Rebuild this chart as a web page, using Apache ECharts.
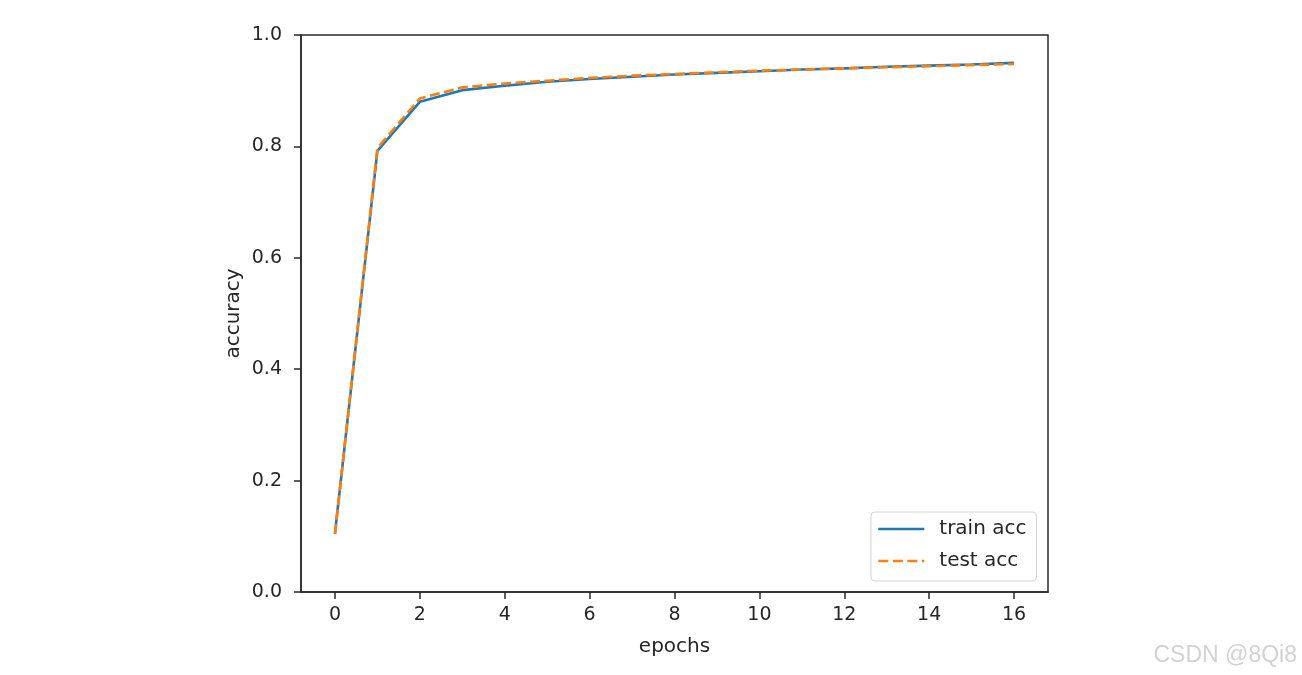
<!DOCTYPE html>
<html>
<head>
<meta charset="utf-8">
<script src="https://cdn.jsdelivr.net/npm/echarts@6/dist/echarts.min.js"></script>
<style>
html,body{margin:0;padding:0;background:#fff;}
#c{width:1302px;height:675px;}
</style>
</head>
<body>
<div id="c"></div>
<script>
const epochs = [0,1,2,3,4,5,6,7,8,9,10,11,12,13,14,15,16];
const trainAcc = [0.105,0.792,0.880,0.901,0.909,0.916,0.921,0.925,0.929,0.932,0.935,0.938,0.940,0.943,0.945,0.947,0.950];
const testAcc  = [0.104,0.797,0.886,0.906,0.913,0.918,0.923,0.927,0.930,0.933,0.936,0.938,0.940,0.942,0.944,0.946,0.948];
const xTicks = [0,2,4,6,8,10,12,14,16];

const font = 'DejaVu Sans';
const txt = '#262626';
const ax = '#2a2a2a';
const chart = echarts.init(document.getElementById('c'), null, {renderer:'canvas'});
chart.setOption({
  animation:false,
  backgroundColor:'#fff',
  grid:{left:301,top:35,width:747,height:557,show:true,borderColor:ax,borderWidth:1.5,backgroundColor:'transparent'},
  xAxis:{
    type:'value',min:-0.8,max:16.8,
    name:'epochs',nameLocation:'middle',nameGap:45,
    nameTextStyle:{fontFamily:font,fontSize:20,color:txt},
    axisLine:{show:true,onZero:false,lineStyle:{color:ax,width:1.5}},
    splitLine:{show:false},
    axisTick:{show:true,length:7,inside:false,lineStyle:{color:ax,width:1.5},customValues:xTicks},
    axisLabel:{fontFamily:font,fontSize:19,color:txt,margin:14,customValues:xTicks,formatter:v=>String(v)}
  },
  yAxis:{
    type:'value',min:0,max:1,interval:0.2,
    name:'accuracy',nameLocation:'middle',nameGap:57,nameMoveOverlap:false,
    nameTextStyle:{fontFamily:font,fontSize:20,color:txt},
    axisLine:{show:true,onZero:false,lineStyle:{color:ax,width:1.5}},
    splitLine:{show:false},
    axisTick:{show:true,length:7,lineStyle:{color:ax,width:1.5}},
    axisLabel:{fontFamily:font,fontSize:19,color:txt,margin:19,formatter:v=>v.toFixed(1)}
  },
  legend:{
    orient:'vertical',
    left:871,top:512,
    itemWidth:46,itemHeight:20,itemGap:12,
    padding:[7,10,10,6],
    backgroundColor:'#fff',borderColor:'#d4d4d4',borderWidth:1,borderRadius:4,
    itemStyle:{opacity:0},
    lineStyle:{width:2.6},
    textStyle:{fontFamily:font,fontSize:20,color:txt,padding:[0,0,0,10]},
    data:[{name:'train acc'},{name:'test acc'}]
  },
  series:[
    {name:'train acc',type:'line',data:epochs.map((e,i)=>[e,trainAcc[i]]),symbol:'none',
     lineStyle:{color:'#1f77b4',width:2.6},itemStyle:{color:'#1f77b4'},z:2},
    {name:'test acc',type:'line',data:epochs.map((e,i)=>[e,testAcc[i]]),symbol:'none',
     lineStyle:{color:'#ff7f0e',width:2.6,type:[10,4.5]},itemStyle:{color:'#ff7f0e'},z:3}
  ],
  graphic:[{type:'text',right:5,top:644,style:{text:'CSDN @8Qi8',fontFamily:'Liberation Sans',fontSize:23,fill:'#d2d2d2'}}]
});
</script>
</body>
</html>
